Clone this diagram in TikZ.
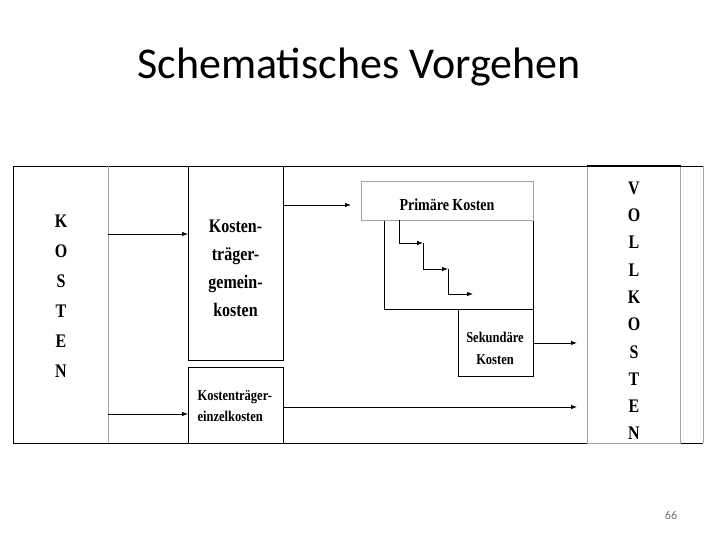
\documentclass[tikz,border=0pt]{standalone}
\usepackage{fontspec}
\setmainfont{Liberation Serif}
\newfontfamily\titlefont{Carlito}
\usepackage{tikz}
\usetikzlibrary{arrows.meta, positioning}
\definecolor{framegray}{RGB}{165, 165, 165}
\definecolor{pagegray}{RGB}{110, 110, 110}
\newcommand{\tall}[1]{\scalebox{1}[1.2]{#1}}

\tikzset{
  box/.style={draw, line width=0.8pt, anchor=north west, inner sep=0pt},
  flow/.style={line width=0.8pt, -{Latex[length=6pt, width=4.5pt]}},
  letter/.style={font=\bfseries\fontsize{16}{16}\selectfont},
  boxtext/.style={font=\bfseries\fontsize{14}{28}\selectfont, align=center}
}

\begin{document}
\begin{tikzpicture}[x=1pt, y=-1pt]
        \useasboundingbox (0,0) rectangle (720,540);

        % Title
        \node[font=\titlefont\fontsize{44}{44}\selectfont, anchor=base] (title) at (359,79) {Schematisches Vorgehen};

        % Outer frame
        \draw[line width=0.8pt] (703,166) -- (13,166) -- (13,443) -- (703,443);
        \draw[framegray, line width=0.8pt] (703,166) -- (703,443);
        \draw[framegray, line width=0.8pt] (108,166) -- (108,443);

        % Boxes
        \node[box, minimum width=95pt, minimum height=194pt] (gemein) at (188,166) {};
        \node[box, minimum width=95pt, minimum height=76pt] (einzel) at (188,367) {};
        \node[box, minimum width=149pt, minimum height=89pt] (primrest) at (384,220) {};
        \node[box, draw=framegray, fill=white, minimum width=172pt, minimum height=39pt] (prim) at (361,181) {};
        \node[box, minimum width=75pt, minimum height=67pt] (sek) at (458,309) {};
        \node[box, draw=framegray, minimum width=93pt, minimum height=277pt] (voll) at (587,166) {};
        \draw[line width=1.8pt] (voll.north west) -- (voll.north east);

        % Column letters
        \foreach \ch [count=\i] in {K,O,S,T,E,N}
            \node[letter] (kost\i) at (61,{191+30*\i}) {\tall{\ch}};
        \foreach \ch [count=\i] in {V,O,L,L,K,O,S,T,E,N}
            \node[letter] (voll\i) at (634,{160.7+27.3*\i}) {\tall{\ch}};

        % Box texts
        \node[boxtext, font=\bfseries\fontsize{16}{28}\selectfont] (gemeintext) at (235.5,268) {\tall{Kosten-}\\\tall{träger-}\\\tall{gemein-}\\\tall{kosten}};
        \node[boxtext, font=\bfseries\fontsize{12.5}{21}\selectfont, align=left, anchor=west] (einzeltext) at (194,406) {\tall{Kostenträger-}\\\tall{einzelkosten}};
        \node[boxtext] (primtext) at (447,205) {\tall{Primäre Kosten}};
        \node[boxtext, font=\bfseries\fontsize{12.5}{22}\selectfont] (sektext) at (495,348) {\tall{Sekundäre}\\\tall{Kosten}};

        % Arrows
        \coordinate (a1) at (108,234);
        \coordinate (a2) at (108,414);
        \coordinate (a3) at (283,205);
        \coordinate (a4) at (283,407);
        \draw[flow] (a1) -- (a1 -| gemein.west);
        \draw[flow] (a2) -- (a2 -| einzel.west);
        \draw[flow, shorten >=10pt] (a3) -- (a3 -| prim.west);
        \draw[flow, shorten >=10pt] (sek.east) -- (sek.east -| voll.west);
        \draw[flow, shorten >=10pt] (a4) -- (a4 -| voll.west);

        % Steps inside the primary costs
        \coordinate (s0) at (399,220);
        \coordinate (s1) at (423,243);
        \coordinate (s2) at (448,269);
        \coordinate (s3) at (473,294);
        \draw[flow] (s0) |- (s1);
        \draw[flow] (s1) |- (s2);
        \draw[flow] (s2) |- (s3);

        % Page number
        \node[font=\titlefont\fontsize{12}{12}\selectfont, text=pagegray] (pagenum) at (671,515) {66};
\end{tikzpicture}
\end{document}
